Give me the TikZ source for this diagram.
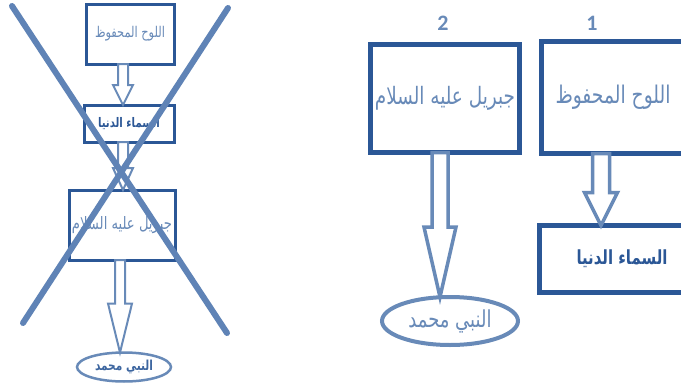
\documentclass[tikz,border=0pt]{standalone}
\usepackage{fontspec}
\usepackage{graphicx}
\usetikzlibrary{calc,shapes.geometric}
\TeXXeTstate=1
\newfontfamily\arabicfont[Script=Arabic]{DejaVu Sans}
\newfontfamily\numfont{Carlito}
\definecolor{darkb}{RGB}{43,87,150}
\definecolor{lightb}{RGB}{104,138,184}
\definecolor{crossb}{RGB}{95,131,182}
\newcommand\ar[2]{\scalebox{1}[1.3]{\resizebox{#1pt}{!}{\arabicfont #2}}}
\newcommand\arb[2]{\scalebox{1}[1.3]{\resizebox{#1pt}{!}{\arabicfont\bfseries #2}}}
\newcommand\barrow[7]{%
  \draw[#7] let \p1=(#1), \p2=(#2) in
   ({\x1+(#6)-#3},\y1) -- ({\x1+(#6)+#3},\y1) -- ({\x1+(#6)+#3},{\y2+#5}) -- ({\x1+(#6)+#4},{\y2+#5})
   -- ({\x1+(#6)},\y2) -- ({\x1+(#6)-#4},{\y2+#5}) -- ({\x1+(#6)-#3},{\y2+#5}) -- cycle;}
\tikzset{
  boxthin/.style={draw=darkb, line width=3pt, fill=white, rectangle, inner sep=0pt, outer sep=0pt},
  boxthick/.style={draw=darkb, line width=5.5pt, fill=white, rectangle, inner sep=0pt, outer sep=0pt},
  ovalthin/.style={draw=lightb, line width=2.5pt, fill=white, ellipse, inner sep=0pt, outer sep=0pt},
  ovalthick/.style={draw=lightb, line width=4pt, fill=white, ellipse, inner sep=0pt, outer sep=0pt},
  arrthin/.style={draw=lightb, line width=2pt, fill=white, line join=miter},
  arrthick/.style={draw=lightb, line width=3.5pt, fill=white, line join=miter},
  crossline/.style={draw=crossb, line width=6pt, line cap=round},
  numlabel/.style={text=lightb, font=\numfont\bfseries\fontsize{22}{24}\selectfont, inner sep=0pt}
}
\begin{document}
\begin{tikzpicture}[x=1pt,y=-1pt]
\clip (0,0) rectangle (681,391);
\fill[white] (0,0) rectangle (681,391);
% ---------- left (crossed out) ----------
\node[boxthin, minimum width=88pt, minimum height=60pt] (L1) at (130,34) {\textcolor{lightb}{\ar{70}{\beginR اللوح المحفوظ\endR}}};
\node[boxthin, minimum width=90pt, minimum height=37pt] (L2) at (129,123.5) {\textcolor{darkb}{\arb{62}{\beginR السماء الدنيا\endR}}};
\node[boxthin, minimum width=106pt, minimum height=70pt] (L3) at (122,225) {\textcolor{lightb}{\ar{100}{\beginR جبريل عليه السلام\endR}}};
\node[ovalthin, minimum width=94pt, minimum height=29pt] (L4) at (124,367) {\textcolor{darkb!70!lightb}{\arb{58}{\beginR النبي محمد\endR}}};
\barrow{L1.south}{L2.north}{5}{10}{20}{-7}{arrthin}
\barrow{L2.south}{L3.north}{5}{10}{22}{-6}{arrthin}
\barrow{L3.south}{L4.north}{5}{12}{49}{-2}{arrthin}
% ---------- right ----------
\node[numlabel] (n2) at (443,23) {2};
\node[numlabel] (n1) at (592,23) {1};
\node[boxthick, minimum width=149pt, minimum height=108pt] (R2) at (445,98.5) {\textcolor{lightb}{\ar{140}{\beginR جبريل عليه السلام\endR}}};
\node[boxthick, minimum width=143pt, minimum height=112pt] (R1) at (613,97.5) {\textcolor{lightb}{\ar{115}{\beginR اللوح المحفوظ\endR}}};
\node[boxthick, minimum width=165pt, minimum height=67pt] (R3) at (622,259) {\textcolor{darkb}{\arb{91}{\beginR السماء الدنيا\endR}}\hspace{28pt}};
\node[ovalthick, minimum width=136pt, minimum height=48pt] (R4) at (450,321) {\textcolor{lightb}{\ar{83}{\beginR النبي محمد\endR}}\hspace{14pt}};
\barrow{R2.south}{R4.north}{8}{16}{70}{-5}{arrthick}
\barrow{R1.south}{R3.north}{8.5}{16.5}{33}{-12}{arrthick}
% ---------- cross ----------
\coordinate (x1a) at (12,6);
\coordinate (x1b) at (227,333);
\coordinate (x2a) at (228,8);
\coordinate (x2b) at (23,323);
\draw[crossline] (x1a) -- (x1b);
\draw[crossline] (x2a) -- (x2b);
\end{tikzpicture}
\end{document}
